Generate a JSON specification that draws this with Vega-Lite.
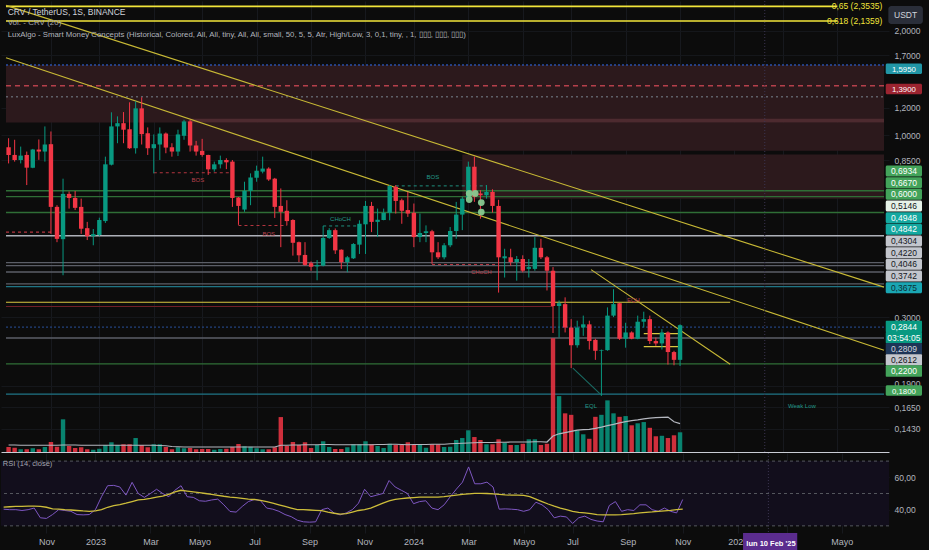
{
  "$schema": "https://vega.github.io/schema/vega-lite/v6.json",
  "background": "#0c0c0c",
  "padding": 0,
  "spacing": -5,
  "datasets": {
    "bars": [
      {"d":"2022-09-19","o":0.925,"h":0.982,"l":0.831,"c":0.879,"v":20,"ma":28,"r":40.3,"rm":41.6},
      {"d":"2022-09-26","o":0.879,"h":0.972,"l":0.841,"c":0.850,"v":17,"ma":28,"r":40,"rm":41.8},
      {"d":"2022-10-03","o":0.850,"h":0.929,"l":0.831,"c":0.875,"v":11,"ma":27,"r":40,"rm":42},
      {"d":"2022-10-10","o":0.879,"h":0.899,"l":0.720,"c":0.808,"v":11,"ma":27,"r":39.5,"rm":42.1},
      {"d":"2022-10-17","o":0.808,"h":0.915,"l":0.805,"c":0.911,"v":15,"ma":27,"r":40,"rm":42.2},
      {"d":"2022-10-24","o":0.911,"h":0.974,"l":0.851,"c":0.899,"v":11,"ma":27,"r":41,"rm":42.2},
      {"d":"2022-10-31","o":0.899,"h":1.062,"l":0.841,"c":0.942,"v":20,"ma":27,"r":35,"rm":42},
      {"d":"2022-11-07","o":0.944,"h":1.027,"l":0.521,"c":0.623,"v":40,"ma":27,"r":34.6,"rm":41.5},
      {"d":"2022-11-14","o":0.623,"h":0.630,"l":0.493,"c":0.504,"v":21,"ma":27,"r":37,"rm":40.5},
      {"d":"2022-11-21","o":0.503,"h":0.751,"l":0.396,"c":0.679,"v":131,"ma":28,"r":40,"rm":40.3},
      {"d":"2022-11-28","o":0.679,"h":0.690,"l":0.616,"c":0.661,"v":24,"ma":28,"r":39.5,"rm":40},
      {"d":"2022-12-05","o":0.661,"h":0.692,"l":0.610,"c":0.619,"v":16,"ma":28,"r":39,"rm":39.8},
      {"d":"2022-12-12","o":0.623,"h":0.658,"l":0.521,"c":0.539,"v":19,"ma":27,"r":37,"rm":39.5},
      {"d":"2022-12-19","o":0.541,"h":0.564,"l":0.500,"c":0.513,"v":11,"ma":27,"r":36.8,"rm":39.2},
      {"d":"2022-12-26","o":0.513,"h":0.538,"l":0.483,"c":0.520,"v":9,"ma":27,"r":37,"rm":39},
      {"d":"2023-01-02","o":0.517,"h":0.580,"l":0.512,"c":0.571,"v":13,"ma":27,"r":40,"rm":39.2},
      {"d":"2023-01-09","o":0.567,"h":0.869,"l":0.560,"c":0.826,"v":28,"ma":27,"r":48,"rm":40},
      {"d":"2023-01-16","o":0.824,"h":1.166,"l":0.820,"c":1.062,"v":39,"ma":27,"r":54.8,"rm":41.5},
      {"d":"2023-01-23","o":1.062,"h":1.135,"l":0.950,"c":1.085,"v":28,"ma":27,"r":55,"rm":42.5},
      {"d":"2023-01-30","o":1.085,"h":1.168,"l":0.950,"c":1.039,"v":31,"ma":27,"r":54,"rm":43.1},
      {"d":"2023-02-06","o":1.043,"h":1.246,"l":0.915,"c":0.919,"v":31,"ma":27,"r":49,"rm":44},
      {"d":"2023-02-13","o":0.919,"h":1.254,"l":0.887,"c":1.197,"v":56,"ma":27,"r":56.9,"rm":45},
      {"d":"2023-02-20","o":1.197,"h":1.288,"l":0.942,"c":1.009,"v":28,"ma":27,"r":50,"rm":46},
      {"d":"2023-02-27","o":1.015,"h":1.055,"l":0.879,"c":0.919,"v":19,"ma":27,"r":47.6,"rm":46.3},
      {"d":"2023-03-06","o":0.919,"h":1.007,"l":0.778,"c":0.944,"v":31,"ma":27,"r":50,"rm":47},
      {"d":"2023-03-13","o":0.942,"h":1.055,"l":0.850,"c":1.013,"v":31,"ma":26,"r":52.6,"rm":47.8},
      {"d":"2023-03-20","o":1.013,"h":1.020,"l":0.889,"c":0.923,"v":20,"ma":25,"r":50,"rm":48.4},
      {"d":"2023-03-27","o":0.925,"h":0.950,"l":0.869,"c":0.899,"v":11,"ma":22,"r":48,"rm":49.5},
      {"d":"2023-04-03","o":0.899,"h":1.039,"l":0.873,"c":1.007,"v":19,"ma":21,"r":52,"rm":51},
      {"d":"2023-04-10","o":0.998,"h":1.110,"l":0.972,"c":1.098,"v":15,"ma":20,"r":54.8,"rm":52},
      {"d":"2023-04-17","o":1.098,"h":1.110,"l":0.899,"c":0.936,"v":16,"ma":20,"r":48,"rm":51.5},
      {"d":"2023-04-24","o":0.936,"h":0.965,"l":0.875,"c":0.899,"v":11,"ma":20,"r":47.6,"rm":51},
      {"d":"2023-05-01","o":0.903,"h":0.978,"l":0.869,"c":0.879,"v":12,"ma":20,"r":45.5,"rm":50.5},
      {"d":"2023-05-08","o":0.879,"h":0.880,"l":0.770,"c":0.799,"v":12,"ma":20,"r":45.2,"rm":50},
      {"d":"2023-05-15","o":0.799,"h":0.841,"l":0.787,"c":0.826,"v":9,"ma":20,"r":46,"rm":49.5},
      {"d":"2023-05-22","o":0.826,"h":0.875,"l":0.804,"c":0.850,"v":12,"ma":20,"r":46.5,"rm":48.9},
      {"d":"2023-05-29","o":0.850,"h":0.860,"l":0.800,"c":0.837,"v":13,"ma":20,"r":43,"rm":48.3},
      {"d":"2023-06-05","o":0.841,"h":0.850,"l":0.623,"c":0.661,"v":20,"ma":20,"r":38.9,"rm":47.8},
      {"d":"2023-06-12","o":0.663,"h":0.665,"l":0.553,"c":0.627,"v":32,"ma":20,"r":38.5,"rm":47.5},
      {"d":"2023-06-19","o":0.612,"h":0.736,"l":0.603,"c":0.693,"v":23,"ma":20,"r":42,"rm":47},
      {"d":"2023-06-26","o":0.693,"h":0.778,"l":0.630,"c":0.757,"v":21,"ma":20,"r":45,"rm":46.5},
      {"d":"2023-07-03","o":0.756,"h":0.819,"l":0.736,"c":0.792,"v":15,"ma":20,"r":46.3,"rm":46.3},
      {"d":"2023-07-10","o":0.787,"h":0.869,"l":0.778,"c":0.803,"v":11,"ma":20,"r":45.5,"rm":45.8},
      {"d":"2023-07-17","o":0.803,"h":0.810,"l":0.740,"c":0.747,"v":11,"ma":20,"r":41,"rm":45},
      {"d":"2023-07-24","o":0.751,"h":0.755,"l":0.579,"c":0.623,"v":19,"ma":20,"r":40.3,"rm":44},
      {"d":"2023-07-31","o":0.627,"h":0.704,"l":0.477,"c":0.603,"v":140,"ma":27,"r":39,"rm":43},
      {"d":"2023-08-07","o":0.607,"h":0.651,"l":0.551,"c":0.567,"v":24,"ma":27,"r":37,"rm":42},
      {"d":"2023-08-14","o":0.571,"h":0.574,"l":0.451,"c":0.491,"v":40,"ma":28,"r":35.7,"rm":41},
      {"d":"2023-08-21","o":0.493,"h":0.495,"l":0.432,"c":0.452,"v":28,"ma":28,"r":33.5,"rm":40},
      {"d":"2023-08-28","o":0.453,"h":0.493,"l":0.422,"c":0.424,"v":39,"ma":29,"r":32.5,"rm":40},
      {"d":"2023-09-04","o":0.429,"h":0.434,"l":0.408,"c":0.419,"v":16,"ma":29,"r":32.3,"rm":39.8},
      {"d":"2023-09-11","o":0.420,"h":0.438,"l":0.383,"c":0.424,"v":28,"ma":29,"r":32.5,"rm":39.6},
      {"d":"2023-09-18","o":0.422,"h":0.549,"l":0.420,"c":0.507,"v":43,"ma":30,"r":40,"rm":39.4},
      {"d":"2023-09-25","o":0.507,"h":0.541,"l":0.504,"c":0.534,"v":20,"ma":30,"r":41,"rm":38.5},
      {"d":"2023-10-02","o":0.534,"h":0.540,"l":0.456,"c":0.467,"v":12,"ma":29,"r":38,"rm":37.8},
      {"d":"2023-10-09","o":0.469,"h":0.470,"l":0.413,"c":0.432,"v":12,"ma":29,"r":36.8,"rm":37.3},
      {"d":"2023-10-16","o":0.432,"h":0.450,"l":0.404,"c":0.446,"v":19,"ma":29,"r":38,"rm":37.5},
      {"d":"2023-10-23","o":0.443,"h":0.490,"l":0.441,"c":0.487,"v":31,"ma":29,"r":40,"rm":38.5},
      {"d":"2023-10-30","o":0.485,"h":0.570,"l":0.456,"c":0.557,"v":31,"ma":29,"r":44,"rm":39.5},
      {"d":"2023-11-06","o":0.555,"h":0.648,"l":0.456,"c":0.627,"v":43,"ma":29,"r":52.6,"rm":40},
      {"d":"2023-11-13","o":0.627,"h":0.644,"l":0.527,"c":0.564,"v":31,"ma":29,"r":48,"rm":41},
      {"d":"2023-11-20","o":0.564,"h":0.616,"l":0.510,"c":0.572,"v":24,"ma":30,"r":49,"rm":42.5},
      {"d":"2023-11-27","o":0.571,"h":0.616,"l":0.570,"c":0.599,"v":16,"ma":30,"r":50,"rm":44},
      {"d":"2023-12-04","o":0.599,"h":0.720,"l":0.570,"c":0.715,"v":33,"ma":31,"r":58,"rm":45.5},
      {"d":"2023-12-11","o":0.712,"h":0.720,"l":0.596,"c":0.648,"v":28,"ma":31,"r":54,"rm":46.3},
      {"d":"2023-12-18","o":0.651,"h":0.658,"l":0.557,"c":0.607,"v":28,"ma":30,"r":52,"rm":46.8},
      {"d":"2023-12-25","o":0.610,"h":0.688,"l":0.583,"c":0.596,"v":39,"ma":29,"r":50,"rm":47.2},
      {"d":"2024-01-01","o":0.599,"h":0.637,"l":0.477,"c":0.510,"v":28,"ma":30,"r":43.7,"rm":47.5},
      {"d":"2024-01-08","o":0.510,"h":0.596,"l":0.493,"c":0.524,"v":31,"ma":30,"r":45,"rm":47.8},
      {"d":"2024-01-15","o":0.524,"h":0.551,"l":0.493,"c":0.530,"v":17,"ma":30,"r":45.5,"rm":47.8},
      {"d":"2024-01-22","o":0.530,"h":0.535,"l":0.427,"c":0.461,"v":31,"ma":31,"r":41,"rm":47.8},
      {"d":"2024-01-29","o":0.461,"h":0.493,"l":0.441,"c":0.446,"v":31,"ma":31,"r":40,"rm":47.8},
      {"d":"2024-02-05","o":0.446,"h":0.490,"l":0.440,"c":0.483,"v":20,"ma":31,"r":43,"rm":48},
      {"d":"2024-02-12","o":0.483,"h":0.545,"l":0.477,"c":0.531,"v":21,"ma":33,"r":48,"rm":48.5},
      {"d":"2024-02-19","o":0.531,"h":0.644,"l":0.504,"c":0.592,"v":48,"ma":34,"r":52.7,"rm":49},
      {"d":"2024-02-26","o":0.592,"h":0.666,"l":0.534,"c":0.658,"v":56,"ma":35,"r":57,"rm":49.5},
      {"d":"2024-03-04","o":0.658,"h":0.841,"l":0.650,"c":0.813,"v":87,"ma":36,"r":66.4,"rm":49.8},
      {"d":"2024-03-11","o":0.813,"h":0.869,"l":0.644,"c":0.666,"v":60,"ma":37,"r":56,"rm":50.1},
      {"d":"2024-03-18","o":0.681,"h":0.696,"l":0.576,"c":0.673,"v":48,"ma":38,"r":56,"rm":50.1},
      {"d":"2024-03-25","o":0.673,"h":0.720,"l":0.658,"c":0.688,"v":31,"ma":38,"r":57,"rm":50},
      {"d":"2024-04-01","o":0.688,"h":0.700,"l":0.600,"c":0.627,"v":31,"ma":38,"r":54,"rm":49.8},
      {"d":"2024-04-08","o":0.627,"h":0.653,"l":0.353,"c":0.446,"v":51,"ma":39,"r":40.3,"rm":49.5},
      {"d":"2024-04-15","o":0.443,"h":0.472,"l":0.390,"c":0.449,"v":37,"ma":39,"r":40.5,"rm":49.2},
      {"d":"2024-04-22","o":0.446,"h":0.472,"l":0.422,"c":0.432,"v":28,"ma":40,"r":40.3,"rm":49},
      {"d":"2024-04-29","o":0.432,"h":0.450,"l":0.382,"c":0.441,"v":28,"ma":40,"r":40,"rm":49},
      {"d":"2024-05-06","o":0.441,"h":0.452,"l":0.404,"c":0.408,"v":33,"ma":40,"r":39,"rm":48.8},
      {"d":"2024-05-13","o":0.413,"h":0.441,"l":0.390,"c":0.418,"v":51,"ma":40,"r":40,"rm":48},
      {"d":"2024-05-20","o":0.413,"h":0.510,"l":0.408,"c":0.475,"v":51,"ma":41,"r":44.6,"rm":46.5},
      {"d":"2024-05-27","o":0.475,"h":0.504,"l":0.441,"c":0.446,"v":28,"ma":41,"r":43,"rm":45},
      {"d":"2024-06-03","o":0.446,"h":0.450,"l":0.358,"c":0.408,"v":33,"ma":40,"r":40,"rm":43.5},
      {"d":"2024-06-10","o":0.408,"h":0.418,"l":0.270,"c":0.323,"v":456,"ma":64,"r":35,"rm":42.2},
      {"d":"2024-06-17","o":0.323,"h":0.335,"l":0.262,"c":0.329,"v":224,"ma":73,"r":36,"rm":41},
      {"d":"2024-06-24","o":0.327,"h":0.342,"l":0.271,"c":0.280,"v":155,"ma":78,"r":35.5,"rm":40},
      {"d":"2024-07-01","o":0.280,"h":0.296,"l":0.214,"c":0.249,"v":149,"ma":83,"r":31.5,"rm":39},
      {"d":"2024-07-08","o":0.249,"h":0.293,"l":0.245,"c":0.280,"v":87,"ma":88,"r":35,"rm":38.3},
      {"d":"2024-07-15","o":0.280,"h":0.303,"l":0.265,"c":0.286,"v":71,"ma":90,"r":36,"rm":38},
      {"d":"2024-07-22","o":0.286,"h":0.293,"l":0.242,"c":0.256,"v":53,"ma":91,"r":34,"rm":37.5},
      {"d":"2024-07-29","o":0.258,"h":0.260,"l":0.226,"c":0.240,"v":141,"ma":95,"r":33,"rm":37},
      {"d":"2024-08-05","o":0.240,"h":0.242,"l":0.178,"c":0.241,"v":149,"ma":100,"r":32.5,"rm":36.8},
      {"d":"2024-08-12","o":0.241,"h":0.320,"l":0.240,"c":0.303,"v":207,"ma":106,"r":42.6,"rm":36.8},
      {"d":"2024-08-19","o":0.303,"h":0.361,"l":0.300,"c":0.327,"v":155,"ma":111,"r":45,"rm":36.8},
      {"d":"2024-08-26","o":0.329,"h":0.330,"l":0.258,"c":0.260,"v":141,"ma":117,"r":39,"rm":37},
      {"d":"2024-09-02","o":0.260,"h":0.289,"l":0.245,"c":0.271,"v":144,"ma":122,"r":40,"rm":37.3},
      {"d":"2024-09-09","o":0.271,"h":0.273,"l":0.259,"c":0.260,"v":107,"ma":126,"r":39.5,"rm":37.6},
      {"d":"2024-09-16","o":0.260,"h":0.303,"l":0.259,"c":0.291,"v":115,"ma":129,"r":43,"rm":38},
      {"d":"2024-09-23","o":0.291,"h":0.311,"l":0.280,"c":0.296,"v":120,"ma":133,"r":43,"rm":38.3},
      {"d":"2024-09-30","o":0.296,"h":0.303,"l":0.251,"c":0.256,"v":97,"ma":136,"r":40,"rm":38.6},
      {"d":"2024-10-07","o":0.256,"h":0.262,"l":0.248,"c":0.252,"v":63,"ma":138,"r":39,"rm":39},
      {"d":"2024-10-14","o":0.252,"h":0.277,"l":0.242,"c":0.271,"v":65,"ma":139,"r":41,"rm":39.3},
      {"d":"2024-10-21","o":0.271,"h":0.273,"l":0.219,"c":0.238,"v":56,"ma":140,"r":39,"rm":39.6},
      {"d":"2024-10-28","o":0.238,"h":0.240,"l":0.218,"c":0.226,"v":67,"ma":121,"r":38,"rm":40},
      {"d":"2024-11-04","o":0.226,"h":0.286,"l":0.217,"c":0.2844,"v":79,"ma":114,"r":46.3,"rm":40.3}
    ],
    "zones": [
      {"s":"2022-09-16","e":"2025-06-28","top":1.595,"bot":1.09,"k":"zone"},
      {"s":"2023-04-17","e":"2025-06-28","top":1.09,"bot":0.904,"k":"zone"},
      {"s":"2023-04-17","e":"2025-06-28","top":1.118,"bot":1.09,"k":"strip"},
      {"s":"2024-02-26","e":"2025-06-28","top":0.881,"bot":0.658,"k":"zone"}
    ],
    "levels": [
      {"s":"2022-09-16","e":"2025-05-05","p":2.3535,"k":"fib"},
      {"s":"2022-09-16","e":"2025-05-05","p":2.1359,"k":"fib"},
      {"s":"2022-09-16","e":"2025-06-28","p":1.595,"k":"blue"},
      {"s":"2022-09-16","e":"2025-06-28","p":1.39,"k":"reddash"},
      {"s":"2022-09-16","e":"2025-06-28","p":1.293,"k":"greydot"},
      {"s":"2022-09-16","e":"2025-06-28","p":0.6934,"k":"green"},
      {"s":"2022-09-16","e":"2025-06-28","p":0.667,"k":"green"},
      {"s":"2022-09-16","e":"2025-06-28","p":0.6,"k":"green"},
      {"s":"2022-09-16","e":"2025-06-28","p":0.22,"k":"green"},
      {"s":"2022-09-16","e":"2025-06-28","p":0.5146,"k":"white"},
      {"s":"2022-09-16","e":"2025-06-28","p":0.4304,"k":"grey"},
      {"s":"2022-09-16","e":"2025-06-28","p":0.422,"k":"grey"},
      {"s":"2022-09-16","e":"2025-06-28","p":0.4046,"k":"grey"},
      {"s":"2022-09-16","e":"2025-06-28","p":0.3742,"k":"grey"},
      {"s":"2022-09-16","e":"2025-06-28","p":0.2612,"k":"grey"},
      {"s":"2022-09-16","e":"2025-06-28","p":0.3675,"k":"teal"},
      {"s":"2022-09-16","e":"2025-06-28","p":0.18,"k":"teal"},
      {"s":"2022-09-16","e":"2025-06-28","p":0.2809,"k":"navydot"},
      {"s":"2022-09-16","e":"2025-01-01","p":0.331,"k":"yellow"},
      {"s":"2024-09-23","e":"2024-11-06","p":0.269,"k":"yellow"},
      {"s":"2024-09-23","e":"2024-11-06","p":0.2466,"k":"yellow"},
      {"s":"2022-09-16","e":"2024-06-10","p":0.322,"k":"darkred"},
      {"s":"2022-09-16","e":"2022-11-07","p":0.527,"k":"bosred"},
      {"s":"2023-03-06","e":"2023-06-05","p":0.781,"k":"bosred"},
      {"s":"2023-06-12","e":"2023-08-07","p":0.551,"k":"bosred"},
      {"s":"2024-01-22","e":"2024-04-08","p":0.425,"k":"bosred"},
      {"s":"2023-09-18","e":"2023-10-30","p":0.549,"k":"bosgreen"},
      {"s":"2023-12-11","e":"2024-03-25","p":0.716,"k":"bosgreen"}
    ],
    "trends": [
      {"id":"t1","d":"2022-09-16","p":2.369},
      {"id":"t1","d":"2025-06-28","p":0.366},
      {"id":"t2","d":"2022-09-16","p":1.673},
      {"id":"t2","d":"2025-06-28","p":0.2409},
      {"id":"t3","d":"2024-07-24","p":0.411},
      {"id":"t3","d":"2025-01-01","p":0.2196},
      {"id":"t4","d":"2024-07-03","p":0.214},
      {"id":"t4","d":"2024-08-05","p":0.179}
    ],
    "notes": [
      {"t":"BOS","d":"2023-04-26","p":0.745,"k":"red"},
      {"t":"BOS","d":"2023-07-17","p":0.521,"k":"red"},
      {"t":"CHoCH","d":"2023-10-08","p":0.576,"k":"teal"},
      {"t":"BOS","d":"2024-01-23","p":0.761,"k":"teal"},
      {"t":"CHoCH","d":"2024-03-19","p":0.404,"k":"red"},
      {"t":"EQH","d":"2024-09-11","p":0.335,"k":"red"},
      {"t":"EQL","d":"2024-07-24","p":0.166,"k":"teal"},
      {"t":"Weak Low","d":"2025-03-25","p":0.1665,"k":"teal"}
    ],
    "dots": [
      {"d":"2024-03-05","p":0.681},
      {"d":"2024-03-12","p":0.681},
      {"d":"2024-03-05","p":0.654},
      {"d":"2024-03-19","p":0.641},
      {"d":"2024-03-19","p":0.602}
    ],
    "tagsFixed": [
      {"t":"1,5950","p":1.595,"g":"blue"},
      {"t":"1,3900","p":1.39,"g":"red"},
      {"t":"0,1800","p":0.18,"g":"green"}
    ],
    "tagsUpper": [
      {"t":"0,6934","g":"green"},
      {"t":"0,6670","g":"green"},
      {"t":"0,6000","g":"green"},
      {"t":"0,5146","g":"white"},
      {"t":"0,4948","g":"teal"},
      {"t":"0,4842","g":"teal"},
      {"t":"0,4304","g":"grey"},
      {"t":"0,4220","g":"grey"},
      {"t":"0,4046","g":"grey"},
      {"t":"0,3742","g":"grey"},
      {"t":"0,3675","g":"teal2"}
    ],
    "tagsLower": [
      {"t":"0,2844","g":"live"},
      {"t":"03:54:05","g":"live"},
      {"t":"0,2809","g":"navy"},
      {"t":"0,2612","g":"grey"},
      {"t":"0,2200","g":"green"}
    ]
  },
  "vconcat": [
    {
      "width": 888,
      "height": 451,
      "resolve": {"scale": {"y": "independent", "color": "independent", "fill": "independent", "stroke": "independent", "strokeDash": "independent", "strokeWidth": "independent"}},
      "layer": [
        {
          "layer": [
            {
              "data": {"name": "zones"},
              "mark": {"type": "rect"},
              "encoding": {
                "x": {"field": "s", "type": "temporal",
                  "scale": {"type": "utc", "domain": [{"year": 2022, "month": 9, "date": 16, "utc": true}, {"year": 2025, "month": 6, "date": 28, "utc": true}]},
                  "axis": {"orient": "bottom", "title": null, "labels": false, "ticks": false, "tickSize": 0, "labelPadding": 0, "minExtent": 0, "maxExtent": 0, "domain": true, "domainColor": "#c9ccd4", "domainWidth": 1, "grid": true, "gridColor": "#17191e",
                    "values": [{"year": 2022, "month": 11, "date": 7, "utc": true}, {"year": 2023, "month": 1, "date": 2, "utc": true}, {"year": 2023, "month": 3, "date": 6, "utc": true}, {"year": 2023, "month": 5, "date": 1, "utc": true}, {"year": 2023, "month": 7, "date": 3, "utc": true}, {"year": 2023, "month": 9, "date": 4, "utc": true}, {"year": 2023, "month": 11, "date": 6, "utc": true}, {"year": 2024, "month": 1, "date": 1, "utc": true}, {"year": 2024, "month": 3, "date": 4, "utc": true}, {"year": 2024, "month": 5, "date": 6, "utc": true}, {"year": 2024, "month": 7, "date": 1, "utc": true}, {"year": 2024, "month": 9, "date": 2, "utc": true}, {"year": 2024, "month": 11, "date": 4, "utc": true}, {"year": 2025, "month": 1, "date": 6, "utc": true}, {"year": 2025, "month": 3, "date": 3, "utc": true}, {"year": 2025, "month": 5, "date": 5, "utc": true}]}},
                "x2": {"field": "e"},
                "y": {"field": "top", "type": "quantitative", "scale": {"type": "log", "domain": [0.1227, 2.4387], "nice": false},
                  "axis": {"orient": "right", "title": null, "grid": true, "gridColor": "#15171b", "ticks": false, "domain": false, "labelPadding": 5,
                    "values": [2, 1.7, 1.2, 1, 0.85, 0.3, 0.19, 0.165, 0.143],
                    "labelOffset": {"condition": {"test": "datum.value == 0.19", "value": -3}, "value": 0},
                    "labelExpr": "replace(format(datum.value, '.4f'), '.', ',')"}},
                "y2": {"field": "bot"},
                "fill": {"field": "k", "type": "nominal", "scale": {"domain": ["zone", "strip"], "range": ["#2c191c", "#4d2a2f"]}, "legend": null}
              }
            },
            {
              "data": {"name": "levels"},
              "mark": {"type": "rule"},
              "encoding": {
                "x": {"field": "s", "type": "temporal"},
                "x2": {"field": "e"},
                "y": {"field": "p", "type": "quantitative", "scale": {"type": "log", "domain": [0.1227, 2.4387], "nice": false}},
                "stroke": {"field": "k", "type": "nominal", "legend": null, "scale": {
                  "domain": ["fib", "blue", "reddash", "greydot", "green", "white", "grey", "teal", "navydot", "yellow", "darkred", "bosred", "bosgreen"],
                  "range": ["#f2e53a", "#2a4fa8", "#b5404b", "#5e6068", "#2f6e36", "#aeb1b9", "#5b5e67", "#1f7485", "#22427e", "#d9c840", "#6e1f27", "#b3343f", "#1f8f7e"]}},
                "strokeDash": {"field": "k", "type": "nominal", "legend": null, "scale": {
                  "domain": ["fib", "blue", "reddash", "greydot", "green", "white", "grey", "teal", "navydot", "yellow", "darkred", "bosred", "bosgreen"],
                  "range": [[1, 0], [2, 2], [5, 4], [2, 3], [1, 0], [1, 0], [1, 0], [1, 0], [2, 2], [1, 0], [1, 0], [3, 3], [3, 3]]}},
                "strokeWidth": {"field": "k", "type": "nominal", "legend": null, "scale": {
                  "domain": ["fib", "blue", "reddash", "greydot", "green", "white", "grey", "teal", "navydot", "yellow", "darkred", "bosred", "bosgreen"],
                  "range": [1.6, 1, 1, 1, 1, 2, 1.3, 1.2, 2.2, 1.3, 1.5, 1, 1]}}
              }
            },
            {
              "data": {"name": "trends"},
              "mark": {"type": "line", "strokeWidth": 1.1},
              "encoding": {
                "x": {"field": "d", "type": "temporal"},
                "y": {"field": "p", "type": "quantitative", "scale": {"type": "log", "domain": [0.1227, 2.4387], "nice": false}},
                "color": {"field": "id", "type": "nominal", "legend": null, "scale": {"domain": ["t1", "t2", "t3", "t4"], "range": ["#c8b935", "#c8b935", "#c8b935", "#1a6b63"]}}
              }
            },
            {
              "data": {"values": [{}]},
              "mark": {"type": "rect", "fill": "#0c0c0c"},
              "encoding": {
                "x": {"datum": {"year": 2025, "month": 8, "date": 11, "utc": true}, "type": "temporal"},
                "x2": {"datum": {"year": 2025, "month": 8, "date": 18, "utc": true}}
              }
            }
          ]
        },
        {
          "data": {"name": "bars"},
          "layer": [
            {
              "mark": {"type": "bar", "width": 4.4, "opacity": 0.85},
              "encoding": {
                "x": {"field": "d", "type": "temporal"},
                "y": {"field": "v", "type": "quantitative", "scale": {"domain": [0, 1808], "nice": false}, "axis": null},
                "color": {"condition": {"test": "datum.c >= datum.o", "value": "#089981"}, "value": "#f23645"}
              }
            },
            {
              "mark": {"type": "line", "color": "#b4b7bf", "strokeWidth": 1.2},
              "encoding": {
                "x": {"field": "d", "type": "temporal"},
                "y": {"field": "ma", "type": "quantitative", "scale": {"domain": [0, 1808], "nice": false}, "axis": null}
              }
            }
          ]
        },
        {
          "layer": [
            {
              "data": {"values": [{}]},
              "mark": {"type": "rule", "color": "#3b3550", "strokeDash": [1, 2]},
              "encoding": {"x": {"datum": {"year": 2025, "month": 2, "date": 10, "utc": true}, "type": "temporal"}}
            },
            {
              "data": {"name": "bars"},
              "mark": {"type": "rule", "strokeWidth": 1},
              "encoding": {
                "x": {"field": "d", "type": "temporal"},
                "y": {"field": "l", "type": "quantitative", "scale": {"type": "log", "domain": [0.1227, 2.4387], "nice": false}, "axis": null},
                "y2": {"field": "h"},
                "color": {"condition": {"test": "datum.c >= datum.o", "value": "#089981"}, "value": "#f23645"}
              }
            },
            {
              "data": {"name": "bars"},
              "mark": {"type": "bar", "width": 4.4},
              "encoding": {
                "x": {"field": "d", "type": "temporal"},
                "y": {"field": "o", "type": "quantitative", "scale": {"type": "log", "domain": [0.1227, 2.4387], "nice": false}, "axis": null},
                "y2": {"field": "c"},
                "color": {"condition": {"test": "datum.c >= datum.o", "value": "#089981"}, "value": "#f23645"}
              }
            },
            {
              "data": {"name": "notes"},
              "mark": {"type": "text", "fontSize": 6, "font": "Liberation Sans Narrow, Liberation Sans, sans-serif"},
              "encoding": {
                "x": {"field": "d", "type": "temporal"},
                "y": {"field": "p", "type": "quantitative", "scale": {"type": "log", "domain": [0.1227, 2.4387], "nice": false}, "axis": null},
                "text": {"field": "t"},
                "color": {"field": "k", "type": "nominal", "legend": null, "scale": {"domain": ["red", "teal"], "range": ["#b8414c", "#23998a"]}}
              }
            },
            {
              "data": {"name": "dots"},
              "mark": {"type": "circle", "size": 45, "color": "#86c990", "opacity": 0.95},
              "encoding": {
                "x": {"field": "d", "type": "temporal"},
                "y": {"field": "p", "type": "quantitative", "scale": {"type": "log", "domain": [0.1227, 2.4387], "nice": false}, "axis": null}
              }
            },
            {
              "data": {"values": [{}]},
              "mark": {"type": "text", "align": "left", "baseline": "middle", "fontSize": 8.5, "color": "#d1d4dc", "font": "Liberation Sans Narrow, Liberation Sans, sans-serif"},
              "encoding": {
                "x": {"datum": {"year": 2022, "month": 9, "date": 18, "utc": true}, "type": "temporal"},
                "y": {"datum": 2.268, "type": "quantitative", "scale": {"type": "log", "domain": [0.1227, 2.4387], "nice": false}, "axis": null},
                "text": {"value": "CRV / TetherUS, 1S, BINANCE"}
              }
            },
            {
              "data": {"values": [{}]},
              "mark": {"type": "text", "align": "left", "baseline": "middle", "fontSize": 8, "color": "#a3a6af", "font": "Liberation Sans Narrow, Liberation Sans, sans-serif"},
              "encoding": {
                "x": {"datum": {"year": 2022, "month": 9, "date": 18, "utc": true}, "type": "temporal"},
                "y": {"datum": 2.1016, "type": "quantitative", "scale": {"type": "log", "domain": [0.1227, 2.4387], "nice": false}, "axis": null},
                "text": {"value": "Vol. - CRV (20)"}
              }
            },
            {
              "data": {"values": [{}]},
              "mark": {"type": "text", "align": "left", "baseline": "middle", "fontSize": 7.8, "color": "#b2b5be", "font": "Liberation Sans Narrow, Liberation Sans, sans-serif"},
              "encoding": {
                "x": {"datum": {"year": 2022, "month": 9, "date": 18, "utc": true}, "type": "temporal"},
                "y": {"datum": 1.9415, "type": "quantitative", "scale": {"type": "log", "domain": [0.1227, 2.4387], "nice": false}, "axis": null},
                "text": {"value": "LuxAlgo - Smart Money Concepts (Historical, Colored, All, All, tiny, All, All, small, 50, 5, 5, Atr, High/Low, 3, 0,1, tiny, , 1, ▯▯▯, ▯▯▯, ▯▯▯)"}
              }
            },
            {
              "data": {"values": [{"t": "0,65 (2,3535)", "p": 2.3535}, {"t": "0,618 (2,1359)", "p": 2.1359}]},
              "mark": {"type": "text", "align": "right", "baseline": "middle", "fontSize": 8.5, "color": "#f2e53a", "font": "Liberation Sans Narrow, Liberation Sans, sans-serif"},
              "encoding": {
                "x": {"datum": {"year": 2025, "month": 6, "date": 26, "utc": true}, "type": "temporal"},
                "y": {"field": "p", "type": "quantitative", "scale": {"type": "log", "domain": [0.1227, 2.4387], "nice": false}, "axis": null},
                "text": {"field": "t"}
              }
            },
            {
              "data": {"values": [{}]},
              "mark": {"type": "bar", "fill": "#2a2e39", "cornerRadius": 3},
              "encoding": {
                "x": {"datum": {"year": 2025, "month": 7, "date": 3, "utc": true}, "type": "temporal"},
                "x2": {"datum": {"year": 2025, "month": 8, "date": 12, "utc": true}},
                "y": {"datum": 2.3595, "type": "quantitative", "scale": {"type": "log", "domain": [0.1227, 2.4387], "nice": false}, "axis": null},
                "y2": {"datum": 2.0948}
              }
            },
            {
              "data": {"values": [{}]},
              "mark": {"type": "text", "align": "center", "baseline": "middle", "fontSize": 8.5, "color": "#d1d4dc", "font": "Liberation Sans Narrow, Liberation Sans, sans-serif"},
              "encoding": {
                "x": {"datum": {"year": 2025, "month": 7, "date": 23, "utc": true}, "type": "temporal"},
                "y": {"datum": 2.2255, "type": "quantitative", "scale": {"type": "log", "domain": [0.1227, 2.4387], "nice": false}, "axis": null},
                "text": {"value": "USDT"}
              }
            }
          ]
        },
        {
          "data": {"name": "tagsFixed"},
          "encoding": {
            "y": {"field": "p", "type": "quantitative", "scale": {"type": "log", "domain": [0.1227, 2.4387], "nice": false}, "axis": null}
          },
          "layer": [
            {
              "mark": {"type": "bar", "height": 10.5, "cornerRadius": 1.5},
              "encoding": {
                "x": {"datum": {"year": 2025, "month": 6, "date": 30, "utc": true}, "type": "temporal"},
                "x2": {"datum": {"year": 2025, "month": 8, "date": 11, "utc": true}},
                "fill": {"field": "g", "type": "nominal", "legend": null, "scale": {"domain": ["blue", "red", "green"], "range": ["#2196a6", "#9c2430", "#43a35a"]}}
              }
            },
            {
              "mark": {"type": "text", "align": "center", "baseline": "middle", "dy": 1.5, "fontSize": 7.8, "color": "#ffffff", "font": "Liberation Sans Narrow, Liberation Sans, sans-serif"},
              "encoding": {
                "x": {"datum": {"year": 2025, "month": 7, "date": 21, "utc": true}, "type": "temporal"},
                "text": {"field": "t"}
              }
            }
          ]
        },
        {
          "data": {"name": "tagsUpper"},
          "encoding": {
            "y": {"field": "t", "type": "ordinal", "axis": null, "scale": {"type": "point", "padding": 0, "range": [170, 286.7],
              "domain": ["0,6934", "0,6670", "0,6000", "0,5146", "0,4948", "0,4842", "0,4304", "0,4220", "0,4046", "0,3742", "0,3675"]}}
          },
          "layer": [
            {
              "mark": {"type": "bar", "height": 11, "cornerRadius": 1.5},
              "encoding": {
                "x": {"datum": {"year": 2025, "month": 6, "date": 30, "utc": true}, "type": "temporal"},
                "x2": {"datum": {"year": 2025, "month": 8, "date": 11, "utc": true}},
                "fill": {"field": "g", "type": "nominal", "legend": null, "scale": {"domain": ["green", "white", "teal", "grey", "teal2"], "range": ["#43a35a", "#e6f2e8", "#14a8a0", "#c3c6cd", "#1aa6b3"]}}
              }
            },
            {
              "mark": {"type": "text", "align": "center", "baseline": "middle", "fontSize": 8.5, "font": "Liberation Sans Narrow, Liberation Sans, sans-serif"},
              "encoding": {
                "x": {"datum": {"year": 2025, "month": 7, "date": 21, "utc": true}, "type": "temporal"},
                "text": {"field": "t"},
                "color": {"field": "g", "type": "nominal", "legend": null, "scale": {"domain": ["green", "white", "teal", "grey", "teal2"], "range": ["#ffffff", "#131722", "#ffffff", "#131722", "#0d2f33"]}}
              }
            }
          ]
        },
        {
          "data": {"name": "tagsLower"},
          "encoding": {
            "y": {"field": "t", "type": "ordinal", "axis": null, "scale": {"type": "point", "padding": 0, "range": [325.5, 370],
              "domain": ["0,2844", "03:54:05", "0,2809", "0,2612", "0,2200"]}}
          },
          "layer": [
            {
              "mark": {"type": "bar", "height": 11.3, "cornerRadius": 1},
              "encoding": {
                "x": {"datum": {"year": 2025, "month": 6, "date": 30, "utc": true}, "type": "temporal"},
                "x2": {"datum": {"year": 2025, "month": 8, "date": 11, "utc": true}},
                "fill": {"field": "g", "type": "nominal", "legend": null, "scale": {"domain": ["live", "navy", "grey", "green"], "range": ["#089981", "#1d3557", "#c3c6cd", "#43a35a"]}}
              }
            },
            {
              "mark": {"type": "text", "align": "center", "baseline": "middle", "fontSize": 8.5, "font": "Liberation Sans Narrow, Liberation Sans, sans-serif"},
              "encoding": {
                "x": {"datum": {"year": 2025, "month": 7, "date": 21, "utc": true}, "type": "temporal"},
                "text": {"field": "t"},
                "color": {"field": "g", "type": "nominal", "legend": null, "scale": {"domain": ["live", "navy", "grey", "green"], "range": ["#ffffff", "#d1d4dc", "#131722", "#ffffff"]}}
              }
            }
          ]
        }
      ]
    },
    {
      "width": 888,
      "height": 80,
      "data": {"name": "bars"},
      "layer": [
        {
          "data": {"values": [{}]},
          "mark": {"type": "rect", "color": "#120e1c"},
          "encoding": {
            "y": {"datum": 70, "type": "quantitative", "scale": {"domain": [25.6, 75], "nice": false, "zero": false},
              "axis": {"orient": "right", "title": null, "grid": true, "gridColor": "#1a1724", "ticks": false, "domain": false, "labelPadding": 5, "values": [40, 60],
                "labelExpr": "replace(format(datum.value, '.2f'), '.', ',')"}},
            "y2": {"datum": 30}
          }
        },
        {
          "data": {"values": [{"lv": 70}, {"lv": 50}, {"lv": 30}]},
          "mark": {"type": "rule", "color": "#55585f", "strokeDash": [3, 3]},
          "encoding": {"y": {"field": "lv", "type": "quantitative"}}
        },
        {
          "data": {"values": [{}]},
          "mark": {"type": "rule", "color": "#3b3550", "strokeDash": [1, 2]},
          "encoding": {"x": {"datum": {"year": 2025, "month": 2, "date": 10, "utc": true}, "type": "temporal"}}
        },
        {
          "mark": {"type": "line", "color": "#7e57c2", "strokeWidth": 1},
          "encoding": {
            "x": {"field": "d", "type": "temporal",
              "scale": {"type": "utc", "domain": [{"year": 2022, "month": 9, "date": 16, "utc": true}, {"year": 2025, "month": 6, "date": 28, "utc": true}]},
              "axis": {"orient": "bottom", "title": null, "ticks": false, "domain": false, "grid": true, "gridColor": "#17191e", "labelPadding": 4, "labelFontSize": 9,
                "values": [{"year": 2022, "month": 11, "date": 7, "utc": true}, {"year": 2023, "month": 1, "date": 2, "utc": true}, {"year": 2023, "month": 3, "date": 6, "utc": true}, {"year": 2023, "month": 5, "date": 1, "utc": true}, {"year": 2023, "month": 7, "date": 3, "utc": true}, {"year": 2023, "month": 9, "date": 4, "utc": true}, {"year": 2023, "month": 11, "date": 6, "utc": true}, {"year": 2024, "month": 1, "date": 1, "utc": true}, {"year": 2024, "month": 3, "date": 4, "utc": true}, {"year": 2024, "month": 5, "date": 6, "utc": true}, {"year": 2024, "month": 7, "date": 1, "utc": true}, {"year": 2024, "month": 9, "date": 2, "utc": true}, {"year": 2024, "month": 11, "date": 4, "utc": true}, {"year": 2025, "month": 1, "date": 6, "utc": true}, {"year": 2025, "month": 3, "date": 3, "utc": true}, {"year": 2025, "month": 5, "date": 5, "utc": true}],
                "labelExpr": "(utcyear(datum.value) == 2025 && utcmonth(datum.value) == 2) ? '' : (utcmonth(datum.value) == 0 ? utcFormat(datum.value, '%Y') : ['Ene','Feb','Mar','Abr','Mayo','Jun','Jul','Ago','Sep','Oct','Nov','Dic'][utcmonth(datum.value)])"}},
            "y": {"field": "r", "type": "quantitative"}
          }
        },
        {
          "mark": {"type": "line", "color": "#cdbd3a", "strokeWidth": 1.3},
          "encoding": {
            "x": {"field": "d", "type": "temporal"},
            "y": {"field": "rm", "type": "quantitative"}
          }
        },
        {
          "data": {"values": [{}]},
          "mark": {"type": "text", "align": "left", "baseline": "middle", "fontSize": 7.5, "color": "#a3a6af", "font": "Liberation Sans Narrow, Liberation Sans, sans-serif"},
          "encoding": {
            "x": {"datum": {"year": 2022, "month": 9, "date": 18, "utc": true}, "type": "temporal"},
            "y": {"datum": 68.1, "type": "quantitative"},
            "text": {"value": "RSI (14, close)"}
          }
        },
        {
          "data": {"values": [{}]},
          "mark": {"type": "bar", "fill": "#5b2c8e"},
          "encoding": {
            "x": {"datum": {"year": 2025, "month": 1, "date": 12, "utc": true}, "type": "temporal"},
            "x2": {"datum": {"year": 2025, "month": 3, "date": 15, "utc": true}},
            "y": {"datum": 25.6, "type": "quantitative"},
            "y2": {"datum": 12.2}
          }
        },
        {
          "data": {"values": [{}]},
          "mark": {"type": "text", "align": "center", "baseline": "middle", "fontSize": 7.5, "fontWeight": "bold", "color": "#ffffff", "font": "Liberation Sans Narrow, Liberation Sans, sans-serif"},
          "encoding": {
            "x": {"datum": {"year": 2025, "month": 2, "date": 13, "utc": true}, "type": "temporal"},
            "y": {"datum": 19.1, "type": "quantitative"},
            "text": {"value": "lun 10 Feb '25"}
          }
        }
      ]
    }
  ],
  "config": {
    "view": {"stroke": null},
    "axis": {"labelFont": "Liberation Sans Narrow, Liberation Sans, sans-serif", "labelColor": "#b2b5be", "labelFontSize": 8.5},
    "text": {"font": "Liberation Sans Narrow, Liberation Sans, sans-serif"}
  }
}
